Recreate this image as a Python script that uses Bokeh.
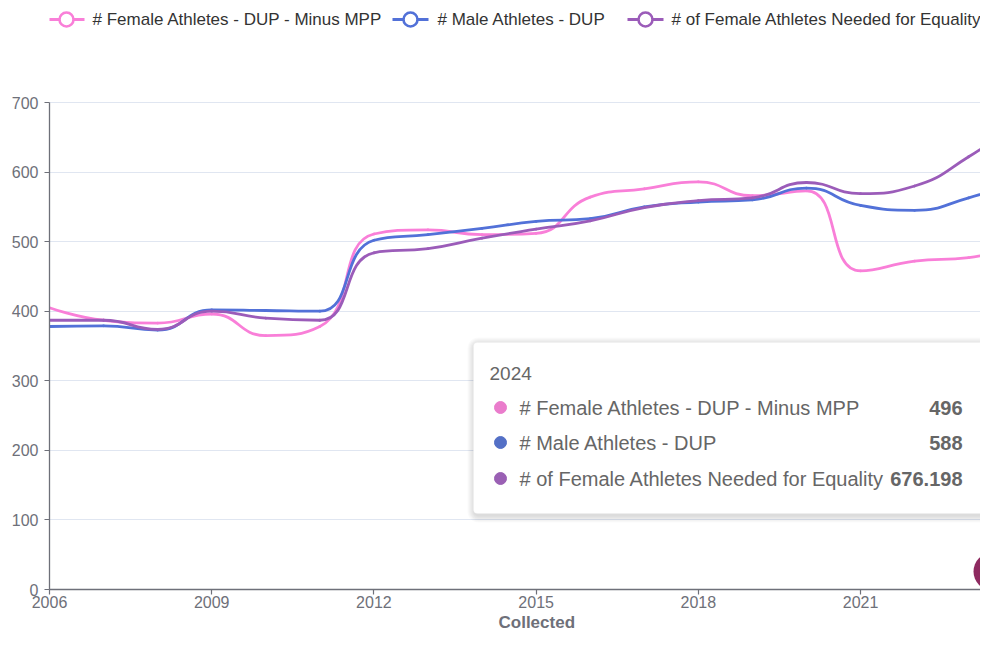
import math
from bokeh.plotting import figure
from bokeh.models import (ColumnDataSource, Range1d, FixedTicker, Label,
                          BoxAnnotation, Title)
from bokeh.embed import file_html
from bokeh.resources import INLINE

# ---------------- data ----------------
years = [2006, 2007, 2008, 2009, 2010, 2011, 2012, 2013, 2014, 2015,
         2016, 2017, 2018, 2019, 2020, 2021, 2022, 2023, 2024]
female_minus_mpp = [405, 387, 383, 396, 365, 378, 511, 517, 510, 512,
                    564, 576, 586, 566, 573, 458, 472, 477, 496]
male_dup = [378, 379, 373, 402, 401, 400, 502, 510, 519, 529,
            533, 550, 557, 560, 577, 552, 545, 563, 588]
needed_equality = [387, 387, 374, 400, 390, 387, 484, 490, 505, 518,
                   530, 549, 559, 563, 585, 569, 580, 622, 676.198]

series_names = ["# Female Athletes - DUP - Minus MPP",
                "# Male Athletes - DUP",
                "# of Female Athletes Needed for Equality"]
series_values = [female_minus_mpp, male_dup, needed_equality]
line_colors = ["#f97fd8", "#5271d8", "#9b5cb9"]
dot_colors = ["#ea7ccc", "#5470c6", "#9a60b4"]
tooltip_values = ["496", "588", "676.198"]
tooltip_title = "2024"

x_ticks = [2006, 2009, 2012, 2015, 2018, 2021]
x_tick_labels = ["2006", "2009", "2012", "2015", "2018", "2021"]
y_ticks = [0, 100, 200, 300, 400, 500, 600, 700]
y_tick_labels = ["0", "100", "200", "300", "400", "500", "600", "700"]
x_title = "Collected"

# ---------------- layout ----------------
SX = 54.07      # px per year
SY = 0.69571    # px per unit
CANVAS_W = 980
CANVAS_H = 633
LEFT = 49
AXIS_Y = 589
FRAME_W = CANVAS_W - LEFT
FRAME_H = AXIS_Y
FONT = "Liberation Sans"
AXIS_C = "#6e7079"


def X(px):  # canvas x -> data x
    return 2006 + (px - LEFT) / SX


def Y(py):  # canvas y -> data y
    return (AXIS_Y - py) / SY


p = figure(width=CANVAS_W, height=CANVAS_H, output_backend="svg",
           toolbar_location=None, title=None,
           x_range=Range1d(2006, 2006 + FRAME_W / SX),
           y_range=Range1d(0, FRAME_H / SY),
           min_border_left=LEFT, min_border_right=0, min_border_top=0,
           min_border_bottom=CANVAS_H - FRAME_H)
p.outline_line_color = None
p.background_fill_color = "white"

# axes
p.xaxis.ticker = FixedTicker(ticks=x_ticks)
p.xaxis.major_label_overrides = {t: l for t, l in zip(x_ticks, x_tick_labels)}
p.yaxis.ticker = FixedTicker(ticks=y_ticks)
p.yaxis.major_label_overrides = {t: l for t, l in zip(y_ticks, y_tick_labels)}
p.yaxis.bounds = (0, 700)
for ax in (p.xaxis, p.yaxis):
    ax.axis_line_color = AXIS_C
    ax.axis_line_width = 1.3
    ax.major_tick_line_color = AXIS_C
    ax.major_tick_line_width = 1.2
    ax.major_tick_out = 5
    ax.major_tick_in = 0
    ax.minor_tick_line_color = None
    ax.major_label_text_font = FONT
    ax.major_label_text_font_size = "16px"
    ax.major_label_text_color = AXIS_C
p.xaxis.major_label_standoff = 1
p.yaxis.major_label_standoff = 6
p.xgrid.grid_line_color = None
p.ygrid.grid_line_color = "#e0e6f1"
p.ygrid.grid_line_width = 1

# axis title placed in the bottom panel, shifted to sit under x = 2015
p.add_layout(Title(text=x_title, align="left", offset=449, standoff=0,
                   text_font=FONT, text_font_size="17px",
                   text_font_style="bold", text_color=AXIS_C), "below")


# ECharts-like smooth curve (bezier control points computed in pixel space)
def smooth_segments(xs, ys, smooth=0.5):
    xs = [v * SX for v in xs]
    ys = [v * SY for v in ys]
    n = len(xs)
    out = {k: [] for k in ("x0", "y0", "x1", "y1", "cx0", "cy0", "cx1", "cy1")}
    cpx0, cpy0 = xs[0], ys[0]
    for i in range(1, n):
        x, y = xs[i], ys[i]
        px, py = xs[i - 1], ys[i - 1]
        if i == n - 1:
            cpx1, cpy1 = x, y
            ncx, ncy = x, y
        else:
            nx, ny = xs[i + 1], ys[i + 1]
            vx, vy = nx - px, ny - py
            lp = math.hypot(x - px, y - py)
            ln = math.hypot(nx - x, ny - y)
            r = ln / (ln + lp)
            ncx = x + vx * smooth * r
            ncy = y + vy * smooth * r
            ncx = min(ncx, max(nx, x)); ncy = min(ncy, max(ny, y))
            ncx = max(ncx, min(nx, x)); ncy = max(ncy, min(ny, y))
            vx, vy = ncx - x, ncy - y
            cpx1 = x - vx * lp / ln
            cpy1 = y - vy * lp / ln
            cpx1 = min(cpx1, max(px, x)); cpy1 = min(cpy1, max(py, y))
            cpx1 = max(cpx1, min(px, x)); cpy1 = max(cpy1, min(py, y))
            vx, vy = x - cpx1, y - cpy1
            ncx = x + vx * ln / lp
            ncy = y + vy * ln / lp
        out["x0"].append(px / SX); out["y0"].append(py / SY)
        out["x1"].append(x / SX); out["y1"].append(y / SY)
        out["cx0"].append(cpx0 / SX); out["cy0"].append(cpy0 / SY)
        out["cx1"].append(cpx1 / SX); out["cy1"].append(cpy1 / SY)
        cpx0, cpy0 = ncx, ncy
    return out


for vals, col in zip(series_values, line_colors):
    src = ColumnDataSource(smooth_segments(years, vals))
    p.bezier(x0="x0", y0="y0", x1="x1", y1="y1", cx0="cx0", cy0="cy0",
             cx1="cx1", cy1="cy1", source=src, line_color=col,
             line_width=2.8, line_cap="round")

# ---------------- legend (top) ----------------
leg_y = Y(19)
leg_icons = [(48, 84, 66, 92), (392, 428, 410, 437), (627, 663, 645, 671)]
for (a, b, c, t), col, name in zip(leg_icons, line_colors, series_names):
    p.segment(x0=[X(a)], x1=[X(b)], y0=[leg_y], y1=[leg_y], line_color=col,
              line_width=2.8)
    p.scatter(x=[X(c)], y=[leg_y], size=14, marker="circle", fill_color="white",
              line_color=col, line_width=2.6)
    p.add_layout(Label(x=X(t), y=leg_y, text=name, text_font=FONT,
                       text_font_size="17px", text_color="#333333",
                       text_baseline="middle", text_align="left"))

# ---------------- tooltip ----------------
tl, tt, tr, tb = 473, 342, 983, 513
for i in range(7, 0, -1):
    p.add_layout(BoxAnnotation(left=X(tl - i + 1), right=X(tr + i + 1),
                               top=Y(tt - i + 2), bottom=Y(tb + i + 2),
                               fill_color="black", fill_alpha=0.018,
                               line_color=None, border_radius=4 + i))
p.add_layout(BoxAnnotation(left=X(tl), right=X(tr), top=Y(tt), bottom=Y(tb),
                           fill_color="white", fill_alpha=1.0,
                           line_color="#eeeeee", line_width=1,
                           border_radius=4))
p.add_layout(Label(x=X(489), y=Y(373), text=tooltip_title, text_font=FONT,
                   text_font_size="19px", text_color="#666666",
                   text_baseline="middle"))
row_y = [407, 442, 478]
for ry, name, val, dcol in zip(row_y, series_names, tooltip_values, dot_colors):
    p.scatter(x=[X(500)], y=[Y(ry)], size=12, marker="circle",
              fill_color=dcol, line_color=dcol, level="overlay")
    p.add_layout(Label(x=X(519), y=Y(ry), text=name, text_font=FONT,
                       text_font_size="20px", text_color="#666666",
                       text_baseline="middle"))
    p.add_layout(Label(x=X(962), y=Y(ry), text=val, text_font=FONT,
                       text_font_size="20px", text_font_style="bold",
                       text_color="#666666", text_baseline="middle",
                       text_align="right"))

# decorative corner badge
p.scatter(x=[X(992)], y=[Y(571)], size=38, marker="circle",
          fill_color="#8e2a60", line_color=None, level="overlay")

open("out.html", "w").write(file_html(p, INLINE))
